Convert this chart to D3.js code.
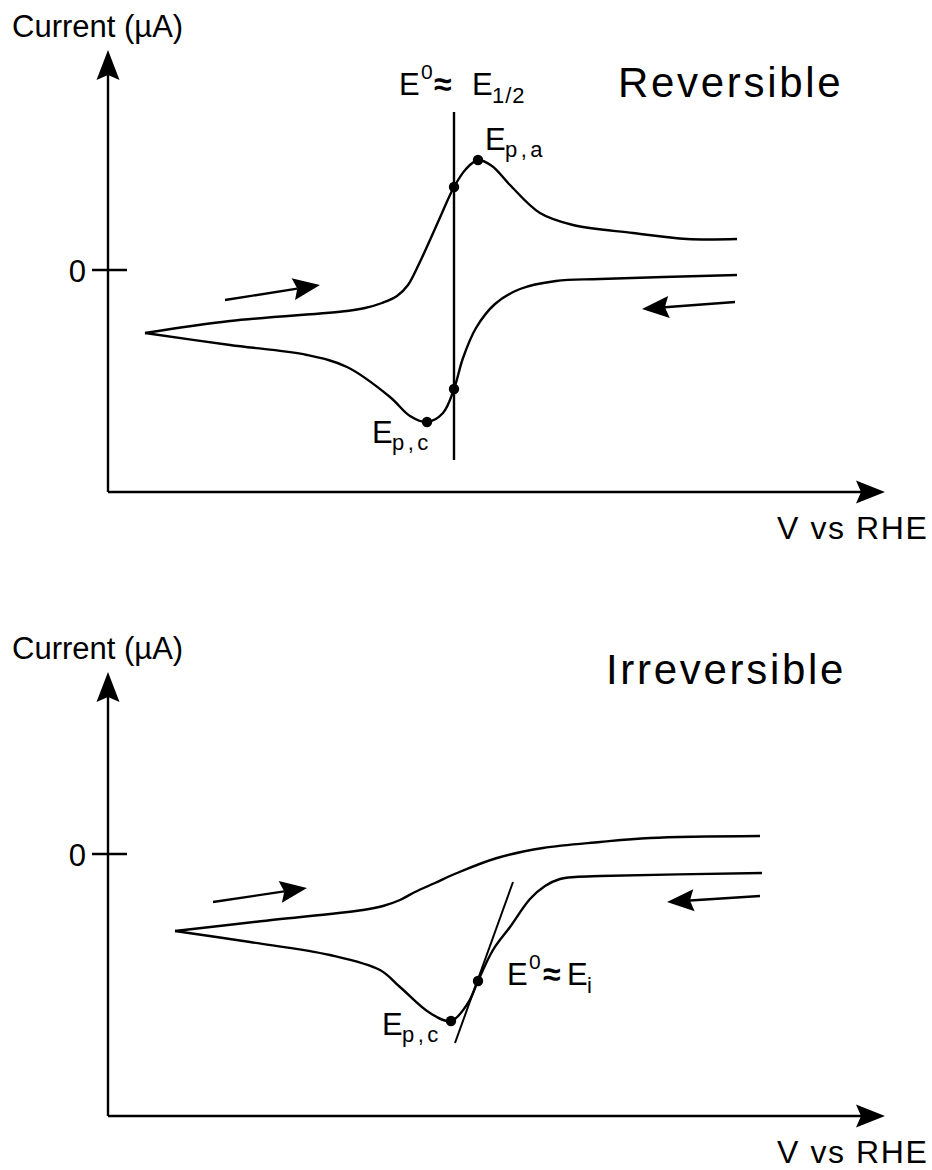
<!DOCTYPE html>
<html>
<head>
<meta charset="utf-8">
<script src="https://cdn.jsdelivr.net/npm/d3@7"></script>
<style>
  body { margin: 0; background: #fff; }
  text { font-family: "Liberation Sans", Arial, Helvetica, sans-serif; fill: #000; }
</style>
</head>
<body>
<svg id="chart" width="932" height="1170"></svg>
<script>
// ---- Reversible couple: forward (anodic) sweep, left -> right ----
const revFwdV = [3.7, 12.2, 23.9, 25.7, 27.4, 28.9, 30.0, 31.0, 32.2, 33.4, 34.6, 35.8, 37.0, 38.4, 40.2, 43.2, 46.5, 52.5, 57.9, 62.9];
const revFwdI = [-6.3, -5.1, -4.1, -3.8, -3.3, -2.6, -1.5, 0.4, 3.0, 5.7, 8.3, 10.1, 11.0, 10.4, 8.5, 5.7, 4.5, 3.7, 3.1, 3.1];
// reverse (cathodic) sweep, right -> left
const revBwdV = [62.9, 49.2, 44.8, 41.2, 38.7, 36.8, 35.5, 34.6, 33.5, 31.9, 30.2, 28.2, 23.9, 19.9, 12.2, 3.7];
const revBwdI = [-0.5, -0.9, -1.1, -1.9, -3.4, -5.8, -8.8, -11.9, -14.3, -15.2, -14.6, -12.7, -9.7, -8.5, -7.5, -6.3];
// characteristic potentials of the reversible couple
const revE12 = 34.6;
const revE12Range = [-19.0, 15.8];
const revPeakA = [37.0, 11.0];
const revHalfA = [34.6, 8.3];
const revPeakC = [31.9, -15.2];
const revHalfC = [34.6, -11.9];
// scan-direction arrows [v1, i1, v2, i2]
const revArrowFwd = [11.7, -3.0, 21.2, -1.5];
const revArrowBwd = [62.7, -3.2, 53.4, -3.9];

// ---- Irreversible couple ----
const irrFwdV = [6.7, 15.5, 25.5, 27.5, 29.2, 30.7, 32.7, 34.9, 38.9, 43.5, 49.2, 54.2, 65.2];
const irrFwdI = [-7.7, -6.7, -5.6, -5.2, -4.6, -3.8, -2.9, -1.9, -0.4, 0.6, 1.2, 1.6, 1.8];
const irrBwdV = [65.4, 49.2, 46.7, 45.2, 43.7, 42.2, 40.2, 38.5, 37.0, 36.0, 34.3, 32.2, 29.2, 27.2, 22.2, 14.2, 6.7];
const irrBwdI = [-1.9, -2.2, -2.3, -2.5, -3.2, -4.5, -7.3, -9.6, -12.7, -14.9, -16.7, -15.9, -13.3, -11.6, -10.1, -8.8, -7.7];
const irrPeakC = [34.3, -16.7];
const irrEi = [37.0, -12.7];
const irrTangent = [34.7, -18.9, 40.5, -2.8];
const irrArrowFwd = [10.5, -4.8, 19.9, -3.4];
const irrArrowBwd = [65.2, -4.2, 55.9, -4.8];

const yTicks = [0];
const xLabel = "V vs RHE";
const yLabel = "Current (µA)";

const svg = d3.select("#chart");
const STROKE = 2.4;

// filled arrowhead with a slightly notched back
function arrowHead(g, x1, y1, x2, y2, len, hw, notch) {
  const a = Math.atan2(y2 - y1, x2 - x1);
  const c = Math.cos(a), s = Math.sin(a);
  const bx = x2 - len * c, by = y2 - len * s;
  const pts = [
    [x2, y2],
    [bx - hw * s, by + hw * c],
    [x2 - (len - notch) * c, y2 - (len - notch) * s],
    [bx + hw * s, by - hw * c]
  ];
  g.append("path").attr("d", "M" + pts.map(p => p.join(",")).join("L") + "Z").attr("fill", "#000");
}

function arrowLine(g, x1, y1, x2, y2, len, hw, notch, w) {
  const a = Math.atan2(y2 - y1, x2 - x1);
  g.append("line")
    .attr("x1", x1).attr("y1", y1)
    .attr("x2", x2 - (len - notch) * Math.cos(a)).attr("y2", y2 - (len - notch) * Math.sin(a))
    .attr("stroke", "#000").attr("stroke-width", w);
  arrowHead(g, x1, y1, x2, y2, len, hw, notch);
}

function panel(opt) {
  const g = svg.append("g");
  const x = d3.scaleLinear().domain([0, 77.7]).range([108, 885]);
  const y = d3.scaleLinear().domain(opt.yDomain).range(opt.yRange);

  // axes with arrowheads
  const x0 = x(0), yb = y(opt.yDomain[0]);
  arrowLine(g, x0, yb, x0, y(opt.yDomain[1]), 30, 11.5, 5, STROKE);
  arrowLine(g, x0, yb, x(77.7), yb, 29, 11.5, 5, STROKE);

  // zero-current tick crossing the axis
  yTicks.forEach(t => {
    g.append("line").attr("x1", x0 - 16).attr("x2", x0 + 19)
      .attr("y1", y(t)).attr("y2", y(t))
      .attr("stroke", "#000").attr("stroke-width", STROKE);
    g.append("text").attr("x", x0 - 22).attr("y", y(t) + 12)
      .attr("text-anchor", "end").attr("font-size", 31).text(t);
  });

  g.append("text").attr("x", 12).attr("y", y(opt.yDomain[1]) - 13)
    .attr("font-size", 31).text(yLabel);
  g.append("text").attr("x", 777).attr("y", yb + 47)
    .attr("font-size", 32).attr("letter-spacing", 1.6).text(xLabel);

  g.append("text").attr("x", opt.titleX).attr("y", opt.titleY)
    .attr("font-size", 42).attr("letter-spacing", 2.7).text(opt.title);

  const line = d3.line().x(d => x(d[0])).y(d => y(d[1])).curve(d3.curveCatmullRom.alpha(0.5));
  [opt.fwd, opt.bwd].forEach(([vs, is]) => {
    g.append("path").datum(vs.map((v, i) => [v, is[i]]))
      .attr("d", line).attr("fill", "none")
      .attr("stroke", "#000").attr("stroke-width", STROKE).attr("stroke-linejoin", "round");
  });

  [opt.arrFwd, opt.arrBwd].forEach(a => {
    arrowLine(g, x(a[0]), y(a[1]), x(a[2]), y(a[3]), 27, 11, 4, STROKE);
  });

  return { g, x, y };
}

function dot(g, px, py) {
  g.append("circle").attr("cx", px).attr("cy", py).attr("r", 5.2).attr("fill", "#000");
}

// label "E" with optional superscript / subscript parts
function eLabel(g, ex, ey, parts) {
  parts.forEach(p => {
    g.append("text").attr("x", ex + p.dx).attr("y", ey + p.dy)
      .attr("font-size", p.size).attr("letter-spacing", p.ls || 0)
      .attr("font-weight", p.bold ? "bold" : null).text(p.t);
  });
}

// ---------- top panel ----------
const revPanel = panel({
  yDomain: [-22.2, 22.0], yRange: [492, 50],
  fwd: [revFwdV, revFwdI], bwd: [revBwdV, revBwdI],
  arrFwd: revArrowFwd, arrBwd: revArrowBwd,
  title: "Reversible", titleX: 618, titleY: 97
});
revPanel.g.append("line")
  .attr("x1", revPanel.x(revE12)).attr("x2", revPanel.x(revE12))
  .attr("y1", revPanel.y(revE12Range[0])).attr("y2", revPanel.y(revE12Range[1]))
  .attr("stroke", "#000").attr("stroke-width", STROKE);
[revPeakA, revHalfA, revPeakC, revHalfC].forEach(p => dot(revPanel.g, revPanel.x(p[0]), revPanel.y(p[1])));

{
  const ax = revPanel.x(revE12), ay = revPanel.y(revE12Range[1]);
  eLabel(revPanel.g, ax, ay, [
    { t: "E", dx: -55, dy: -17, size: 31 },
    { t: "0", dx: -33, dy: -33, size: 21 },
    { t: "≈", dx: -20, dy: -17, size: 32, bold: true },
    { t: "E", dx: 18, dy: -17, size: 31 },
    { t: "1/2", dx: 38, dy: -9, size: 22, ls: 1 }
  ]);
  const px = revPanel.x(revPeakA[0]), py = revPanel.y(revPeakA[1]);
  eLabel(revPanel.g, px, py, [
    { t: "E", dx: 7, dy: -10, size: 31 },
    { t: "p,a", dx: 27, dy: -3, size: 22, ls: 3.5 }
  ]);
  const cx = revPanel.x(revPeakC[0]), cy = revPanel.y(revPeakC[1]);
  eLabel(revPanel.g, cx, cy, [
    { t: "E", dx: -55, dy: 21, size: 31 },
    { t: "p,c", dx: -35, dy: 28, size: 22, ls: 3.5 }
  ]);
}

// ---------- bottom panel ----------
const irrPanel = panel({
  yDomain: [-26.2, 18.2], yRange: [1116, 672],
  fwd: [irrFwdV, irrFwdI], bwd: [irrBwdV, irrBwdI],
  arrFwd: irrArrowFwd, arrBwd: irrArrowBwd,
  title: "Irreversible", titleX: 606, titleY: 684
});
irrPanel.g.append("line")
  .attr("x1", irrPanel.x(irrTangent[0])).attr("y1", irrPanel.y(irrTangent[1]))
  .attr("x2", irrPanel.x(irrTangent[2])).attr("y2", irrPanel.y(irrTangent[3]))
  .attr("stroke", "#000").attr("stroke-width", 2);
[irrPeakC, irrEi].forEach(p => dot(irrPanel.g, irrPanel.x(p[0]), irrPanel.y(p[1])));
{
  const cx = irrPanel.x(irrPeakC[0]), cy = irrPanel.y(irrPeakC[1]);
  eLabel(irrPanel.g, cx, cy, [
    { t: "E", dx: -69, dy: 14, size: 31 },
    { t: "p,c", dx: -49, dy: 21, size: 22, ls: 3.5 }
  ]);
  const ex = irrPanel.x(irrEi[0]), ey = irrPanel.y(irrEi[1]);
  eLabel(irrPanel.g, ex, ey, [
    { t: "E", dx: 29, dy: 4, size: 31 },
    { t: "0", dx: 51, dy: -12, size: 21 },
    { t: "≈", dx: 65, dy: 4, size: 32, bold: true },
    { t: "E", dx: 89, dy: 4, size: 31 },
    { t: "i", dx: 109, dy: 12, size: 22 }
  ]);
}
</script>
</body>
</html>
